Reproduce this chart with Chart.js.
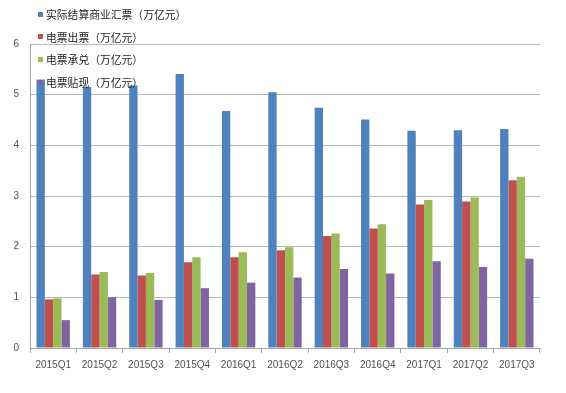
<!DOCTYPE html>
<html>
<head>
<meta charset="utf-8">
<script src="https://cdn.jsdelivr.net/npm/chart.js@4/dist/chart.umd.min.js"></script>
<style>
html,body{margin:0;padding:0;background:#fff;}
#wrap{position:relative;width:566px;height:393px;}
#legend{position:absolute;left:38px;top:3px;font-family:"Noto Sans CJK SC",sans-serif;font-size:10.8px;color:#222;}
#legend div{height:22.6px;line-height:20px;display:flex;align-items:center;white-space:nowrap;}
#legend span.sw{display:inline-block;width:5px;height:5px;margin-right:3px;}
</style>
</head>
<body>
<div id="wrap">
<canvas id="c" width="566" height="393"></canvas>
<div id="legend"></div>
</div>
<script>
const categories = ["2015Q1","2015Q2","2015Q3","2015Q4","2016Q1","2016Q2","2016Q3","2016Q4","2017Q1","2017Q2","2017Q3"];
const seriesNames = ["实际结算商业汇票（万亿元）","电票出票（万亿元）","电票承兑（万亿元）","电票贴现（万亿元）"];
const settled   = [5.30,5.15,5.18,5.41,4.68,5.05,4.74,4.51,4.29,4.30,4.32];
const eIssued   = [0.96,1.45,1.43,1.69,1.79,1.93,2.21,2.36,2.83,2.89,3.31];
const eAccepted = [0.98,1.50,1.48,1.79,1.89,1.99,2.26,2.44,2.92,2.97,3.38];
const eDiscount = [0.55,1.00,0.95,1.18,1.29,1.39,1.56,1.47,1.71,1.60,1.76];
const yTicks = [0,1,2,3,4,5,6];
const colors = ["#4F81BD","#C0504D","#9BBB59","#8064A2"];

const seriesData = [settled,eIssued,eAccepted,eDiscount];
const datasets = seriesData.map((d,i)=>({label:seriesNames[i],data:d,backgroundColor:colors[i],borderWidth:0}));

const chart = new Chart(document.getElementById('c'),{
  type:'bar',
  data:{labels:categories,datasets:datasets},
  options:{
    responsive:false,animation:false,
    layout:{padding:{top:44,right:26,left:0,bottom:0}},
    datasets:{bar:{categoryPercentage:0.72,barPercentage:1.0}},
    plugins:{legend:{display:false},tooltip:{enabled:false}},
    scales:{
      x:{
        grid:{offset:true,drawOnChartArea:false,color:'#a6a6a6',tickLength:5},
        border:{color:'#a6a6a6'},
        ticks:{color:'#505050',font:{family:'"Liberation Sans", sans-serif',size:10},padding:6,maxRotation:0},
        afterFit:s=>{s.height=45;}
      },
      y:{
        min:0,max:6,
        afterBuildTicks:s=>{s.ticks=yTicks.map(v=>({value:v}));},
        grid:{color:'#b8b8b8',drawTicks:false},
        border:{color:'#a6a6a6'},
        ticks:{color:'#505050',font:{family:'"Liberation Sans", sans-serif',size:10},padding:11},
        afterFit:s=>{s.width=30;}
      }
    }
  }
});

const lg=document.getElementById('legend');
chart.data.datasets.forEach(ds=>{
  const row=document.createElement('div');
  const sw=document.createElement('span');sw.className='sw';sw.style.background=ds.backgroundColor;
  row.appendChild(sw);row.appendChild(document.createTextNode(ds.label));
  lg.appendChild(row);
});
</script>
</body>
</html>
